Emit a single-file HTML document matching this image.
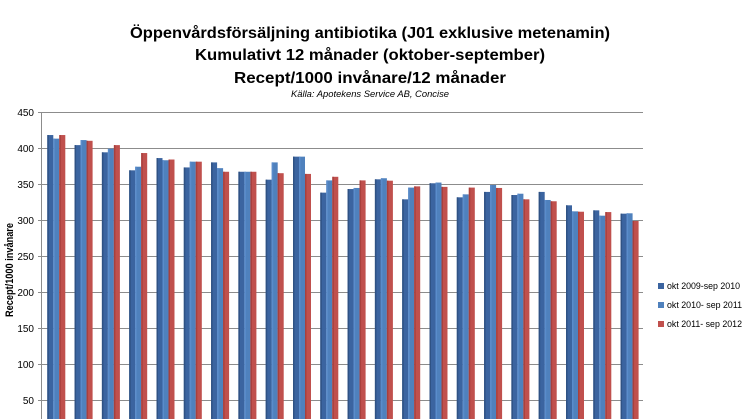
<!DOCTYPE html>
<html><head><meta charset="utf-8"><style>
html,body{margin:0;padding:0;background:#fff;width:746px;height:419px;overflow:hidden}
svg{display:block;font-family:"Liberation Sans",sans-serif}
</style></head><body>
<svg width="746" height="419" viewBox="0 0 746 419" xmlns="http://www.w3.org/2000/svg">
<g font-weight="bold" fill="#000" text-anchor="middle">
<text x="370" y="38" font-size="16" textLength="480" lengthAdjust="spacingAndGlyphs">Öppenvårdsförsäljning antibiotika (J01 exklusive metenamin)</text>
<text x="370" y="60" font-size="16" textLength="350" lengthAdjust="spacingAndGlyphs">Kumulativt 12 månader (oktober-september)</text>
<text x="370" y="83" font-size="16" textLength="272" lengthAdjust="spacingAndGlyphs">Recept/1000 invånare/12 månader</text>
</g>
<text x="370" y="97" font-size="9" font-style="italic" text-anchor="middle" textLength="158" lengthAdjust="spacingAndGlyphs">Källa: Apotekens Service AB, Concise</text>
<g id="grid" stroke="#8c8c8c" stroke-width="1"></g>
<g id="bars"></g>
<g font-size="10" text-anchor="end" fill="#000" id="ylab"></g>
<text transform="translate(13,270) rotate(-90)" font-size="11" font-weight="bold" text-anchor="middle" textLength="94" lengthAdjust="spacingAndGlyphs">Recept/1000 invånare</text>
<rect x="658" y="283" width="6" height="6" fill="#3b64a0"/>
<rect x="658" y="302" width="6" height="6" fill="#4f81bd"/>
<rect x="658" y="321" width="6" height="6" fill="#c0504d"/>
<g font-size="9" fill="#000">
<text x="667" y="289" textLength="73" lengthAdjust="spacingAndGlyphs">okt 2009-sep 2010</text>
<text x="667" y="308" textLength="75" lengthAdjust="spacingAndGlyphs">okt 2010- sep 2011</text>
<text x="667" y="327" textLength="75" lengthAdjust="spacingAndGlyphs">okt 2011- sep 2012</text>
</g>
</svg>
<script>
var ns="http://www.w3.org/2000/svg";
function el(t,a,p){var e=document.createElementNS(ns,t);for(var k in a)e.setAttribute(k,a[k]);if(p)p.appendChild(e);return e;}
var g=document.getElementById('grid'),yl=document.getElementById('ylab'),b=document.getElementById('bars');
function Y(v){return 436-v*0.72;}
for(var v=50;v<=450;v+=50){var y=Y(v)+0.5;el('line',{x1:38,x2:643,y1:y,y2:y},g);var t=el('text',{x:34,y:Y(v)+4},yl);t.textContent=v;}
el('line',{x1:41.5,x2:41.5,y1:112,y2:419},g);
var d=[[418,413,418],[404,411,410],[394,399,404],[369,374,393],[386,383,384],[373,381,381],[380,372,367],[367,367,367],[356,380,365],[388,388,364],[338,355,360],[343,344.5,355],[356.5,358,354.6],[328.7,345,346.7],[351,352,346],[331.5,335.6,345],[339,348.6,344.5],[334.7,336.5,328.7],[339,327.8,326],[320.4,312,311.5],[313.4,306,311],[308.8,309.3,298.6]];
var c=[['#3b64a0','#2f5284'],['#4f81bd','#5a8ccb'],['#c0504d','#a8403d']];
d.forEach(function(r,i){var x0=47.3+i*27.3;r.forEach(function(v,j){var x=x0+j*6;var y=Y(v);
el('rect',{x:x,y:y,width:6,height:436-y,fill:c[j][0]},b);
el('rect',{x:x,y:y,width:1.5,height:436-y,fill:c[j][1]},b);});});
</script>
</body></html>
